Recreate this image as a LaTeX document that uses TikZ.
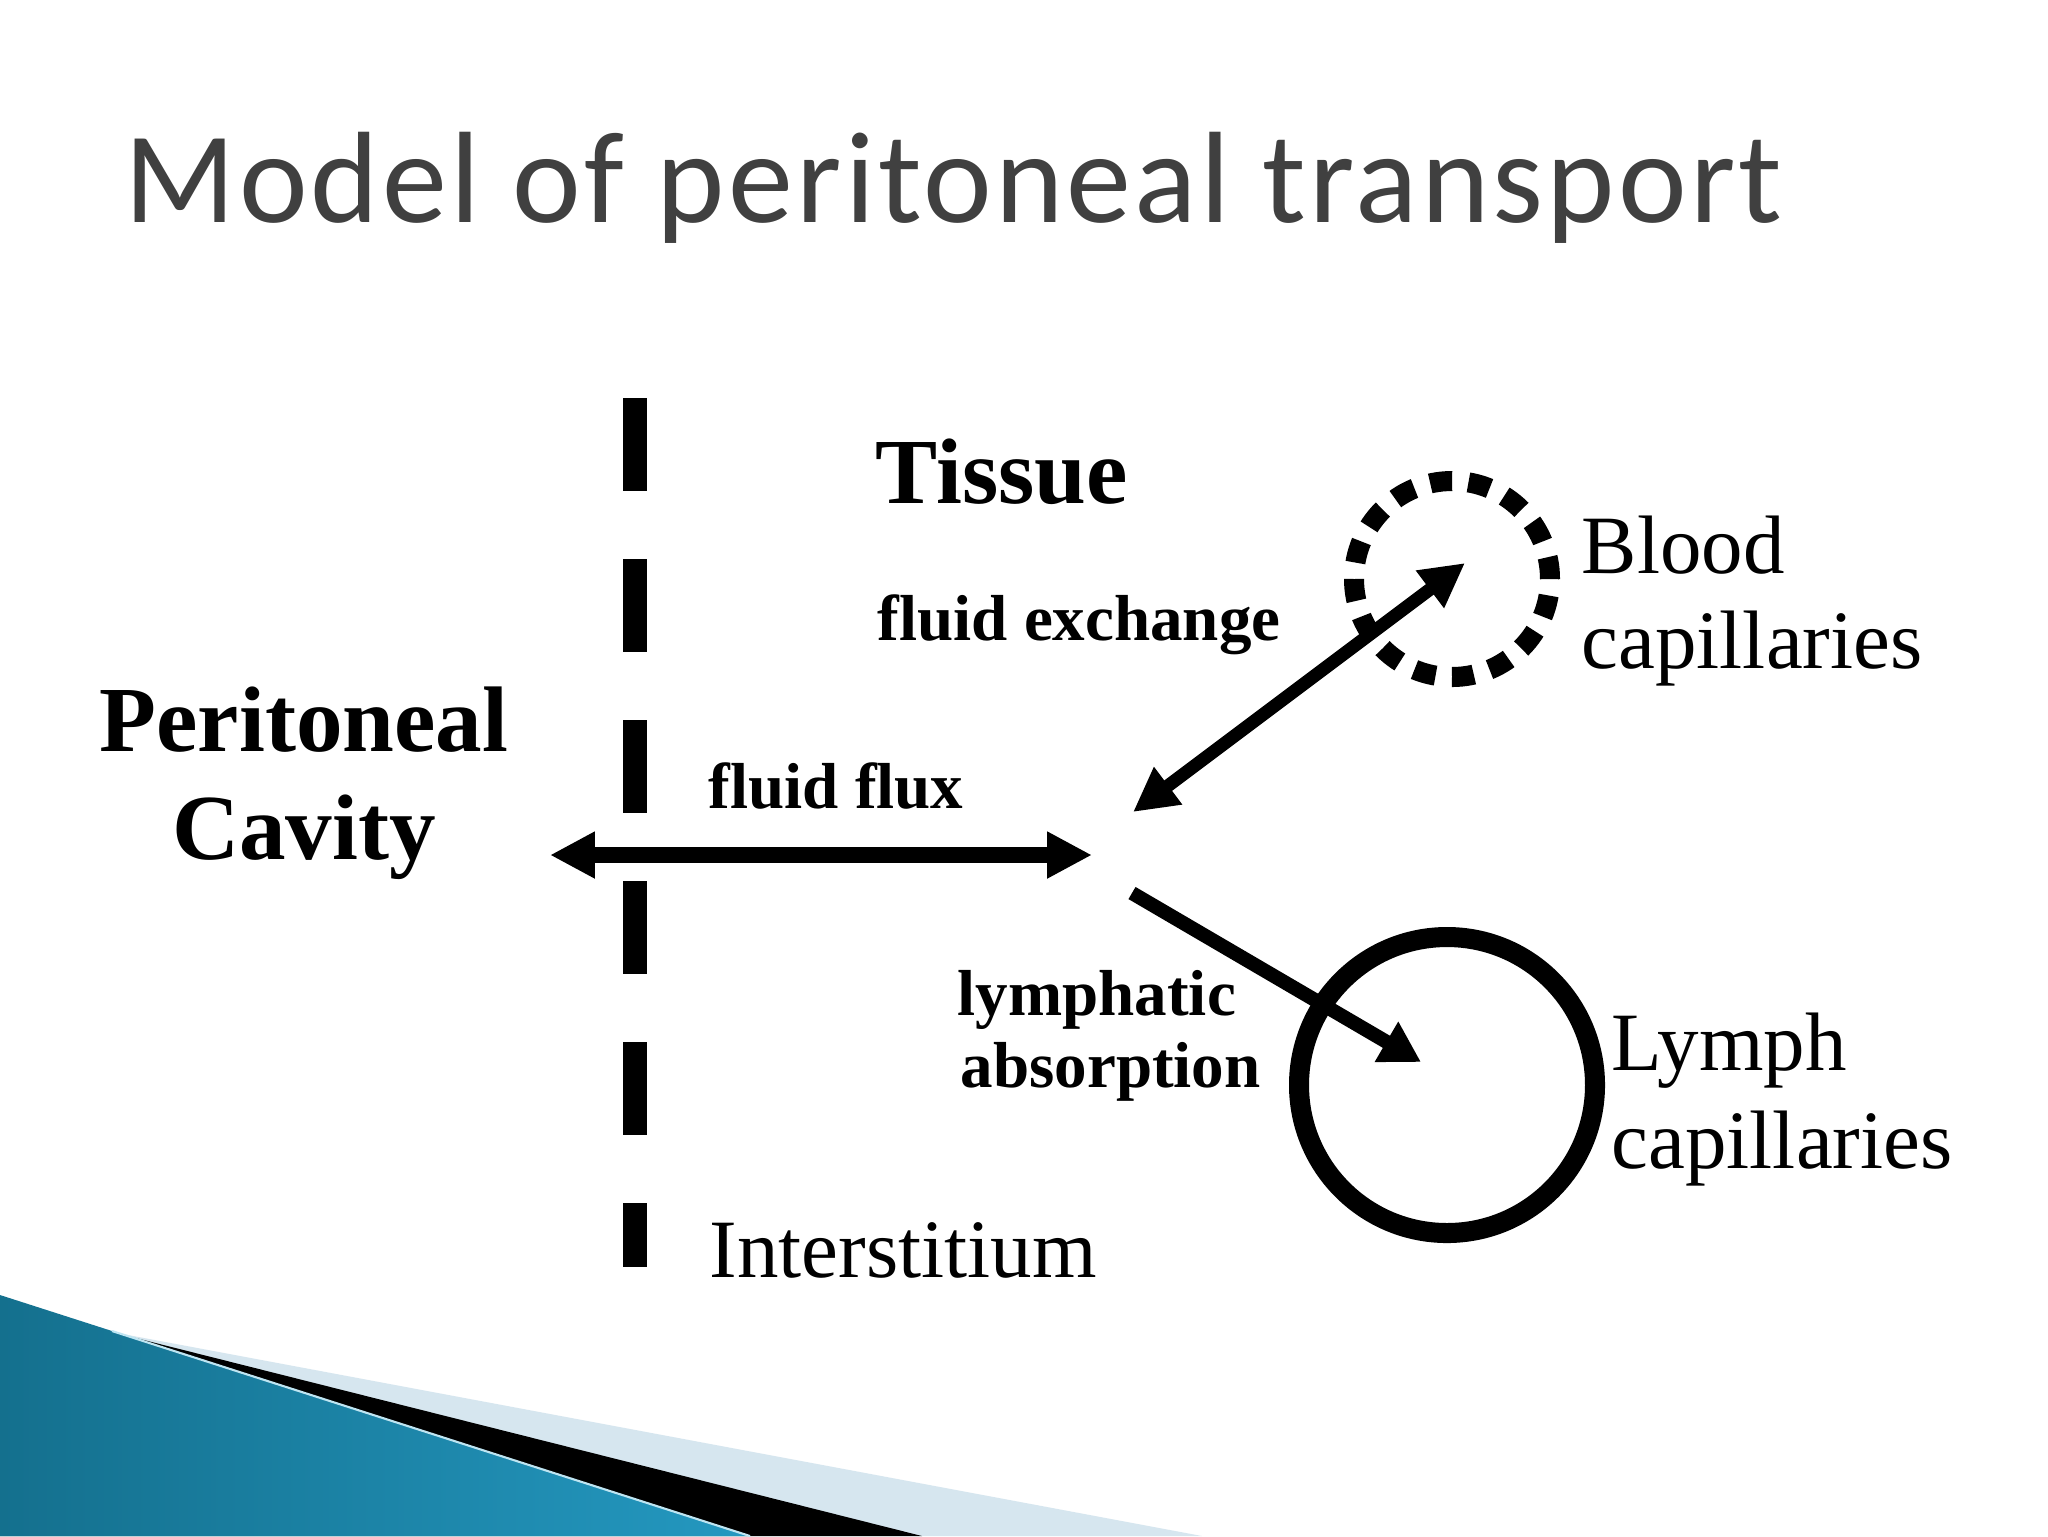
\documentclass[tikz,border=0pt]{standalone}
\usepackage{fontspec}
\setmainfont{Liberation Serif}
\newfontfamily\titlefont[LetterSpace=2.5]{Carlito}
\usepackage{tikz}
\usetikzlibrary{arrows.meta}
\definecolor{titlegray}{RGB}{64, 64, 64}
\definecolor{tealdark}{RGB}{20, 112, 142}
\definecolor{teallight}{RGB}{92, 190, 222}
\definecolor{tealmid}{RGB}{36, 152, 192}
\definecolor{paleblue}{RGB}{214, 230, 239}
\tikzstyle{biglabel} = [anchor=base west, inner sep=0pt, font=\fontsize{26.5}{30}\selectfont\bfseries]
\tikzstyle{smalllabel} = [anchor=base west, inner sep=0pt, font=\fontsize{18.5}{22}\selectfont\bfseries]
\tikzstyle{plainlabel} = [anchor=base west, inner sep=0pt, font=\fontsize{23.6}{27}\selectfont]
\tikzstyle{vessel} = [circle, draw, inner sep=0pt, line width=5.7pt]
\tikzstyle{flux} = [line width=4.55pt, {Triangle[length=12.8pt,width=12.5pt]}-{Triangle[length=12.8pt,width=12.5pt]}]
\tikzstyle{exchange} = [line width=3.7pt, {Triangle[length=12.5pt,width=12.5pt]}-{Triangle[length=12.5pt,width=12.5pt]}]
\tikzstyle{absorb} = [line width=4pt, -{Triangle[length=11.4pt,width=12.5pt]}]

\begin{document}
\begin{tikzpicture}[x=0.1mm, y=-0.1mm]
    \useasboundingbox (0,0) rectangle (2048,1536);
    \fill[white] (0,0) rectangle (2048,1536);

    % slide decoration
    \fill[paleblue] (112,1332) -- (1202,1536) -- (0,1536) -- cycle;
    \fill[black] (112,1332) -- (922,1536) -- (0,1536) -- cycle;
    \shade[left color=tealdark, middle color=teallight, right color=tealmid] (0,1295) -- (750,1536) -- (0,1536) -- cycle;
    \draw[teallight!40, line width=0.6pt] (112,1331) -- (750,1536);

    \node[anchor=base west, inner sep=0pt, text=titlegray, font=\titlefont\fontsize{37}{42}\selectfont] (title) at (124,222) {Model of peritoneal transport};

    % membrane
    \coordinate (membtop) at (635,398);
    \coordinate (membbot) at (635,1267);
    \draw[line width=6.83pt, dash pattern=on 26.46pt off 19.35pt] (membtop) -- (membbot);

    \node[biglabel] (tissue) at (875,503) {Tissue};
    \node[biglabel, anchor=base] (perit) at (304,751) {Peritoneal};
    \node[biglabel, anchor=base] (cavity) at (304,859) {Cavity};
    \node[smalllabel] (exlabel) at (877,640) {fluid exchange};
    \node[smalllabel] (fluxlabel) at (708,808) {fluid flux};
    \node[smalllabel] (lymlabel) at (957,1015) {lymphatic};
    \node[smalllabel] (abslabel) at (960,1087) {absorption};
    \node[plainlabel] (inter) at (709,1277) {Interstitium};

    \node[vessel, minimum size=19.6mm, dash pattern=on 6.25pt off 4.7pt] (bloodcap) at (1452,579) {};
    \node[vessel, minimum size=29.6mm] (lymphcap) at (1447,1085) {};
    \node[plainlabel] (blood) at (1581,573) {Blood};
    \node[plainlabel] (bloodcap2) at (1581,668) {capillaries};
    \node[plainlabel] (lymph) at (1611,1070) {Lymph};
    \node[plainlabel] (lymphcap2) at (1611,1168) {capillaries};

    \coordinate (fluxL) at (550,855);
    \coordinate (fluxR) at (1092,855);
    \coordinate (exLow) at (1133,812);
    \coordinate (exHigh) at (1465,563);
    \coordinate (absStart) at (1132,893);
    \coordinate (absEnd) at (1421,1062);

    \draw[flux] (fluxL) -- (fluxR);
    \draw[exchange] (exLow) -- (exHigh);
    \draw[absorb] (absStart) -- (absEnd);
\end{tikzpicture}
\end{document}
